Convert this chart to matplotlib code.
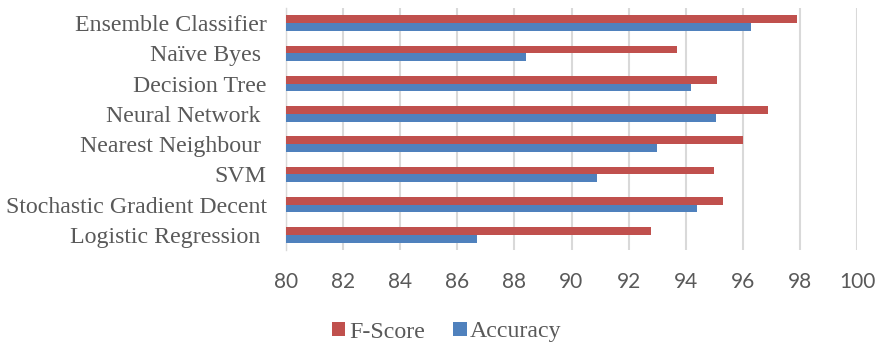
import matplotlib
matplotlib.use("Agg")
import matplotlib.pyplot as plt
import numpy as np

categories = ["Logistic Regression ", "Stochastic Gradient Decent", "SVM",
              "Nearest Neighbour ", "Neural Network ", "Decision Tree",
              "Naïve Byes ", "Ensemble Classifier"]
f_score = [92.8, 95.3, 95.0, 96.0, 96.9, 95.1, 93.7, 97.9]
accuracy = [86.7, 94.4, 90.9, 93.0, 95.05, 94.2, 88.4, 96.3]
x_ticks = [80, 82, 84, 86, 88, 90, 92, 94, 96, 98, 100]

red = "#C0504D"
blue = "#4F81BD"
gray = "#595959"

fig = plt.figure(figsize=(8.8, 3.44), dpi=100)
ax = fig.add_axes([286/880, 1-250/344, (857-286)/880, (250-8)/344])

y = np.arange(len(categories))
h = 0.26
ax.barh(y + h/2, np.array(f_score) - 80, left=80, height=h, color=red, label="F-Score", zorder=3)
ax.barh(y - h/2, np.array(accuracy) - 80, left=80, height=h, color=blue, label="Accuracy", zorder=3)

ax.set_xlim(80, 100)
ax.set_ylim(-0.5, 7.5)
ax.set_xticks(x_ticks)
ax.set_xticklabels([str(t) for t in x_ticks], fontfamily="Lato", fontsize=15, color=gray)
ax.set_yticks(y)
ax.set_yticklabels(categories, fontfamily="Liberation Serif", fontsize=17.2, color=gray)
ax.tick_params(axis="x", length=0, pad=15.5)
ax.tick_params(axis="y", length=0, pad=14)
ax.grid(axis="x", color="#D9D9D9", linewidth=1.5, zorder=0)
for s in ["top", "right", "bottom"]:
    ax.spines[s].set_visible(False)
ax.spines["left"].set_color("#D9D9D9")
ax.spines["left"].set_linewidth(1.0)

leg = fig.legend(loc="center", bbox_to_anchor=(447/880, 1-332/344), ncol=2, frameon=False,
                 prop={"family": "Liberation Serif", "size": 17.2},
                 handlelength=0.55, handleheight=0.55, handletextpad=0.15, columnspacing=1.2,
                 borderpad=0, borderaxespad=0)
for t in leg.get_texts():
    t.set_color(gray)

fig.savefig("out.png", dpi=100)
